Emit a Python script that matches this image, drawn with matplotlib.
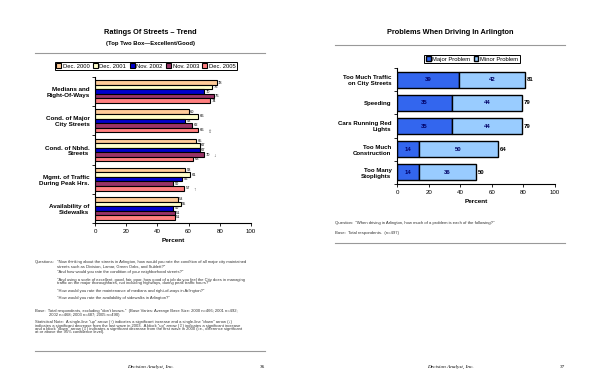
import matplotlib
matplotlib.use("Agg")
import matplotlib.pyplot as plt
import numpy as np

plt.rcParams['font.family'] = ['Liberation Sans', 'DejaVu Sans']

# ---- left page: ratings of streets trend
streets = ["Medians and\nRight-Of-Ways", "Cond. of Major\nCity Streets", "Cond. of Nbhd.\nStreets",
           "Mgmt. of Traffic\nDuring Peak Hrs.", "Availability of\nSidewalks"]
waves = ["Dec. 2000", "Dec. 2001", "Nov. 2002", "Nov. 2003", "Dec. 2005"]
ratings = {
    "Dec. 2000": [78, 60, 65, 58, 53],
    "Dec. 2001": [75, 66, 67, 61, 55],
    "Nov. 2002": [70, 58, 67, 56, 50],
    "Nov. 2003": [76, 62, 70, 50, 51],
    "Dec. 2005": [74, 66, 63, 57, 51],
}
wave_colors = ["#FFCC99", "#FFFFCC", "#0000CC", "#993366", "#FF8080"]
# significance arrows: (street index, wave index, symbol)
arrows = [(1, 4, "\u21e7"), (2, 3, "\u2193"), (3, 4, "\u2191")]

# ---- right page: problems when driving
problems = ["Too Much Traffic\non City Streets", "Speeding", "Cars Running Red\nLights",
            "Too Much\nConstruction", "Too Many\nStoplights"]
major = [39, 35, 35, 14, 14]
minor = [42, 44, 44, 50, 36]
totals = [81, 79, 79, 64, 50]

W, H = 600, 388
fig = plt.figure(figsize=(6, 3.88), dpi=100)


def fx(x):
    return x / W


def fy(y):
    return 1 - y / H


def rect(x0, y0, x1, y1):
    return [fx(x0), fy(y1), fx(x1 - x0), (y1 - y0) / H]


def hline(x0, x1, y):
    fig.add_artist(plt.Line2D([fx(x0), fx(x1)], [fy(y), fy(y)], color="#999999", lw=0.8))


def style_axes(ax):
    for s in ["top", "right"]:
        ax.spines[s].set_visible(False)
    for s in ["left", "bottom"]:
        ax.spines[s].set_linewidth(0.8)
    ax.set_xlim(0, 100)
    ax.set_xticks([0, 20, 40, 60, 80, 100])
    ax.tick_params(axis="x", labelsize=4.4, length=2, width=0.6, pad=2)
    ax.set_xlabel("Percent", fontsize=4.6, fontweight="bold", labelpad=3)


# ---------------- left chart
axl = fig.add_axes(rect(95, 77, 251, 223))
h = 0.155
y = np.arange(len(streets))
for k, w in enumerate(waves):
    yy = y + (k - 2) * h
    axl.barh(yy, ratings[w], height=h, color=wave_colors[k], edgecolor="black", lw=0.8, label=w)
    for yi, v in zip(yy, ratings[w]):
        axl.text(v + 1, yi, str(v), fontsize=2.9, va="center", ha="left")
for si, wi, sym in arrows:
    v = ratings[waves[wi]][si]
    axl.text(v + 6, y[si] + (wi - 2) * h + 0.05, sym, fontsize=3.6, va="center", ha="left", color="#555555")
axl.set_ylim(len(streets) - 0.5, -0.5)
axl.set_yticks(np.arange(len(streets) + 1) - 0.5)
axl.set_yticklabels([])
axl.set_yticks(y, minor=True)
axl.set_yticklabels(streets, minor=True, fontsize=4.5, fontweight="bold")
axl.tick_params(axis="y", which="major", length=2, width=0.6)
axl.tick_params(axis="y", which="minor", length=0, pad=4)
style_axes(axl)
lg = axl.legend(loc="center", bbox_to_anchor=(fx(146), fy(66)), bbox_transform=fig.transFigure,
                ncol=5, fontsize=4.2, handlelength=0.8, handleheight=0.8, handletextpad=0.3,
                columnspacing=0.6, borderpad=0.3, fancybox=False, framealpha=1)
lg.get_frame().set_edgecolor("black")
lg.get_frame().set_linewidth(0.7)

fig.text(fx(150), fy(33), "Ratings Of Streets \u2013 Trend", fontsize=5.3, fontweight="bold", ha="center", va="center")
fig.text(fx(150), fy(44), "(Top Two Box\u2014Excellent/Good)", fontsize=4.2, fontweight="bold", ha="center", va="center")
hline(35, 265, 53)

notes = [
    (35, 262.5, "Questions:"),
    (57, 262.5, "\"Now thinking about the streets in Arlington, how would you rate the condition of all major city maintained"),
    (57, 266.3, "streets such as Division, Lamar, Green Oaks, and Sublett?\""),
    (57, 272.5, "\"And how would you rate the condition of your neighborhood streets?\""),
    (57, 279.5, "\"And using a scale of excellent, good, fair, poor, how good of a job do you feel the City does in managing"),
    (57, 283, "traffic on the major thoroughfares, not including highways, during peak traffic hours?\""),
    (57, 291, "\"How would you rate the maintenance of medians and right-of-ways in Arlington?\""),
    (57, 298.5, "\"How would you rate the availability of sidewalks in Arlington?\""),
    (35, 311.3, "Base:  Total respondents, excluding \"don't knows.\"  (Base Varies: Average Base Size: 2000 n=466; 2001 n=492;"),
    (49, 314.7, "2002 n=468; 2003 n=487; 2005 n=490)"),
    (35, 322, "Statistical Note:  A single-line \"up\" arrow (\u2191) indicates a significant increase and a single-line \"down\" arrow (\u2193)"),
    (35, 325.4, "indicates a significant decrease from the last wave in 2003.  A block \"up\" arrow (\u21e7) indicates a significant increase"),
    (35, 328.9, "and a block \"down\" arrow (\u21e9) indicates a significant decrease from the first wave in 2000 (i.e., difference significant"),
    (35, 332.3, "at or above the 95% confidence level)."),
]
for x, yv, t in notes:
    fig.text(fx(x), fy(yv), t, fontsize=3.0, ha="left", va="center", color="#333333")
hline(35, 265, 351)

# ---------------- right chart
axr = fig.add_axes(rect(397, 68, 555, 184))
yr = np.arange(len(problems))
axr.barh(yr, major, height=0.69, color="#3366EE", edgecolor="black", lw=1.0, label="Major Problem")
axr.barh(yr, minor, left=major, height=0.69, color="#99CCFF", edgecolor="black", lw=1.0, label="Minor Problem")
for yi, a, b, t in zip(yr, major, minor, totals):
    axr.text(a / 2, yi, str(a), fontsize=4.3, fontweight="bold", color="#000066", ha="center", va="center")
    axr.text(a + b / 2, yi, str(b), fontsize=4.3, fontweight="bold", color="#000066", ha="center", va="center")
    axr.text(t + 1, yi, str(t), fontsize=4.3, fontweight="bold", ha="left", va="center")
axr.set_ylim(len(problems) - 0.5, -0.5)
axr.set_yticks(np.arange(len(problems) + 1) - 0.5)
axr.set_yticklabels([])
axr.set_yticks(yr, minor=True)
axr.set_yticklabels(problems, minor=True, fontsize=4.4, fontweight="bold")
axr.tick_params(axis="y", which="major", length=2, width=0.6)
axr.tick_params(axis="y", which="minor", length=0, pad=4)
style_axes(axr)
lg2 = axr.legend(loc="center", bbox_to_anchor=(fx(472), fy(59)), bbox_transform=fig.transFigure,
                 ncol=2, fontsize=4.2, handlelength=0.8, handleheight=0.8, handletextpad=0.3,
                 columnspacing=0.6, borderpad=0.3, fancybox=False, framealpha=1)
lg2.get_frame().set_edgecolor("black")
lg2.get_frame().set_linewidth(0.7)

fig.text(fx(450), fy(33), "Problems When Driving In Arlington", fontsize=5.3, fontweight="bold", ha="center", va="center")
hline(335, 565, 44.5)
fig.text(fx(335), fy(223), "Question:  \"When driving in Arlington, how much of a problem is each of the following?\"",
         fontsize=3.1, ha="left", va="center", color="#333333")
fig.text(fx(335), fy(233), "Base:  Total respondents.  (n=497)", fontsize=3.1, ha="left", va="center", color="#333333")
hline(335, 565, 243)

# ---------------- footers
for cx, px, num in [(150, 265, "36"), (450, 565, "37")]:
    fig.text(fx(cx), fy(367), "Decision Analyst, Inc.", fontsize=3.8, style="italic",
             family="Liberation Serif", ha="center", va="center")
    fig.text(fx(px), fy(367), num, fontsize=3.8, family="Liberation Serif", ha="right", va="center")

fig.savefig("out.png", dpi=100)
